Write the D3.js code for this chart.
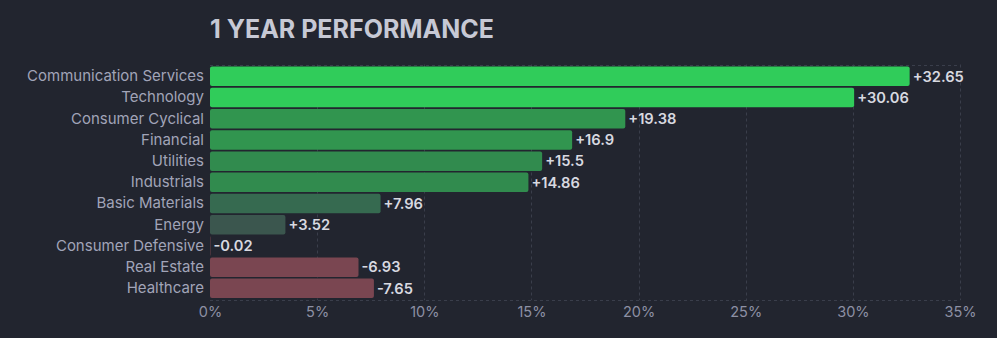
<!DOCTYPE html>
<html><head><meta charset="utf-8">
<script src="https://cdn.jsdelivr.net/npm/d3@7"></script>
<style>
html,body{margin:0;padding:0;background:#22252f;}
svg{display:block;font-family:Inter, "Noto Sans", sans-serif;}
</style></head>
<body>
<svg id="c" width="997" height="338"></svg>
<script>
const title = "1 YEAR PERFORMANCE";
const categories = ["Communication Services","Technology","Consumer Cyclical","Financial","Utilities","Industrials","Basic Materials","Energy","Consumer Defensive","Real Estate","Healthcare"];
const values = [32.65, 30.06, 19.38, 16.9, 15.5, 14.86, 7.96, 3.52, -0.02, -6.93, -7.65];
const xTicks = [0, 5, 10, 15, 20, 25, 30, 35];
const colorThresholds = [0, 5, 10, 16, 20];
const colorRange = ["#7a4651", "#3b564e", "#366a50", "#318b4e", "#31954f", "#30cc5a"];

const data = categories.map((c, i) => ({cat: c, v: values[i]}));
const svg = d3.select("#c");
const W = 997, H = 338;
const m = {left: 210, right: 37, top: 64.5, bottom: 37.8};

const x = d3.scaleLinear().domain([0, 35]).range([m.left, W - m.right]);
const y = d3.scaleBand().domain(categories).range([m.top, H - m.bottom]).paddingInner(0.08).paddingOuter(0.1);
const color = d3.scaleThreshold().domain(colorThresholds).range(colorRange);

svg.append("text").attr("x", 210).attr("y", 37.5)
  .attr("fill", "#c7c9d5").attr("font-size", 25).attr("font-weight", 700)
  .text(title);

const grid = svg.append("g").attr("stroke", "#3a3e4b").attr("stroke-dasharray", "3,3").attr("stroke-width", 1);
grid.selectAll("line.v").data(xTicks.filter(t => t > 0)).join("line")
  .attr("x1", d => Math.round(x(d)) + 0.5).attr("x2", d => Math.round(x(d)) + 0.5)
  .attr("y1", m.top).attr("y2", H - m.bottom);
grid.selectAll("line.h").data([m.top, H - m.bottom]).join("line")
  .attr("x1", m.left).attr("x2", W - m.right)
  .attr("y1", d => Math.round(d) + 0.5).attr("y2", d => Math.round(d) + 0.5);

const xAxis = d3.axisBottom(x).tickValues(xTicks).tickFormat(d => d + "%").tickSize(0).tickPadding(7);
const gx = svg.append("g").attr("transform", `translate(0,${H - m.bottom})`).call(xAxis);
gx.select(".domain").remove();
gx.selectAll("text").attr("fill", "#8d90a4").attr("font-size", 14.5).attr("font-family", "Inter, sans-serif");

const yAxis = d3.axisLeft(y).tickSize(0).tickPadding(6);
const gy = svg.append("g").attr("transform", `translate(${m.left},0)`).call(yAxis);
gy.select(".domain").remove();
gy.selectAll("text").attr("fill", "#a1a4b8").attr("font-size", 15).attr("font-family", "Inter, sans-serif");

svg.append("g").selectAll("rect").data(data).join("rect")
  .attr("x", x(0))
  .attr("y", d => y(d.cat))
  .attr("width", d => x(Math.abs(d.v)) - x(0))
  .attr("height", y.bandwidth())
  .attr("rx", 2)
  .attr("fill", d => color(d.v));

svg.append("g").selectAll("text").data(data).join("text")
  .attr("x", d => x(Math.abs(d.v)) + 3)
  .attr("y", d => y(d.cat) + y.bandwidth() / 2)
  .attr("dy", "0.36em")
  .attr("fill", "#d8d9e0").attr("font-size", 14.7).attr("font-weight", 600)
  .text(d => (d.v > 0 ? "+" : "") + d.v);
</script>
</body></html>
